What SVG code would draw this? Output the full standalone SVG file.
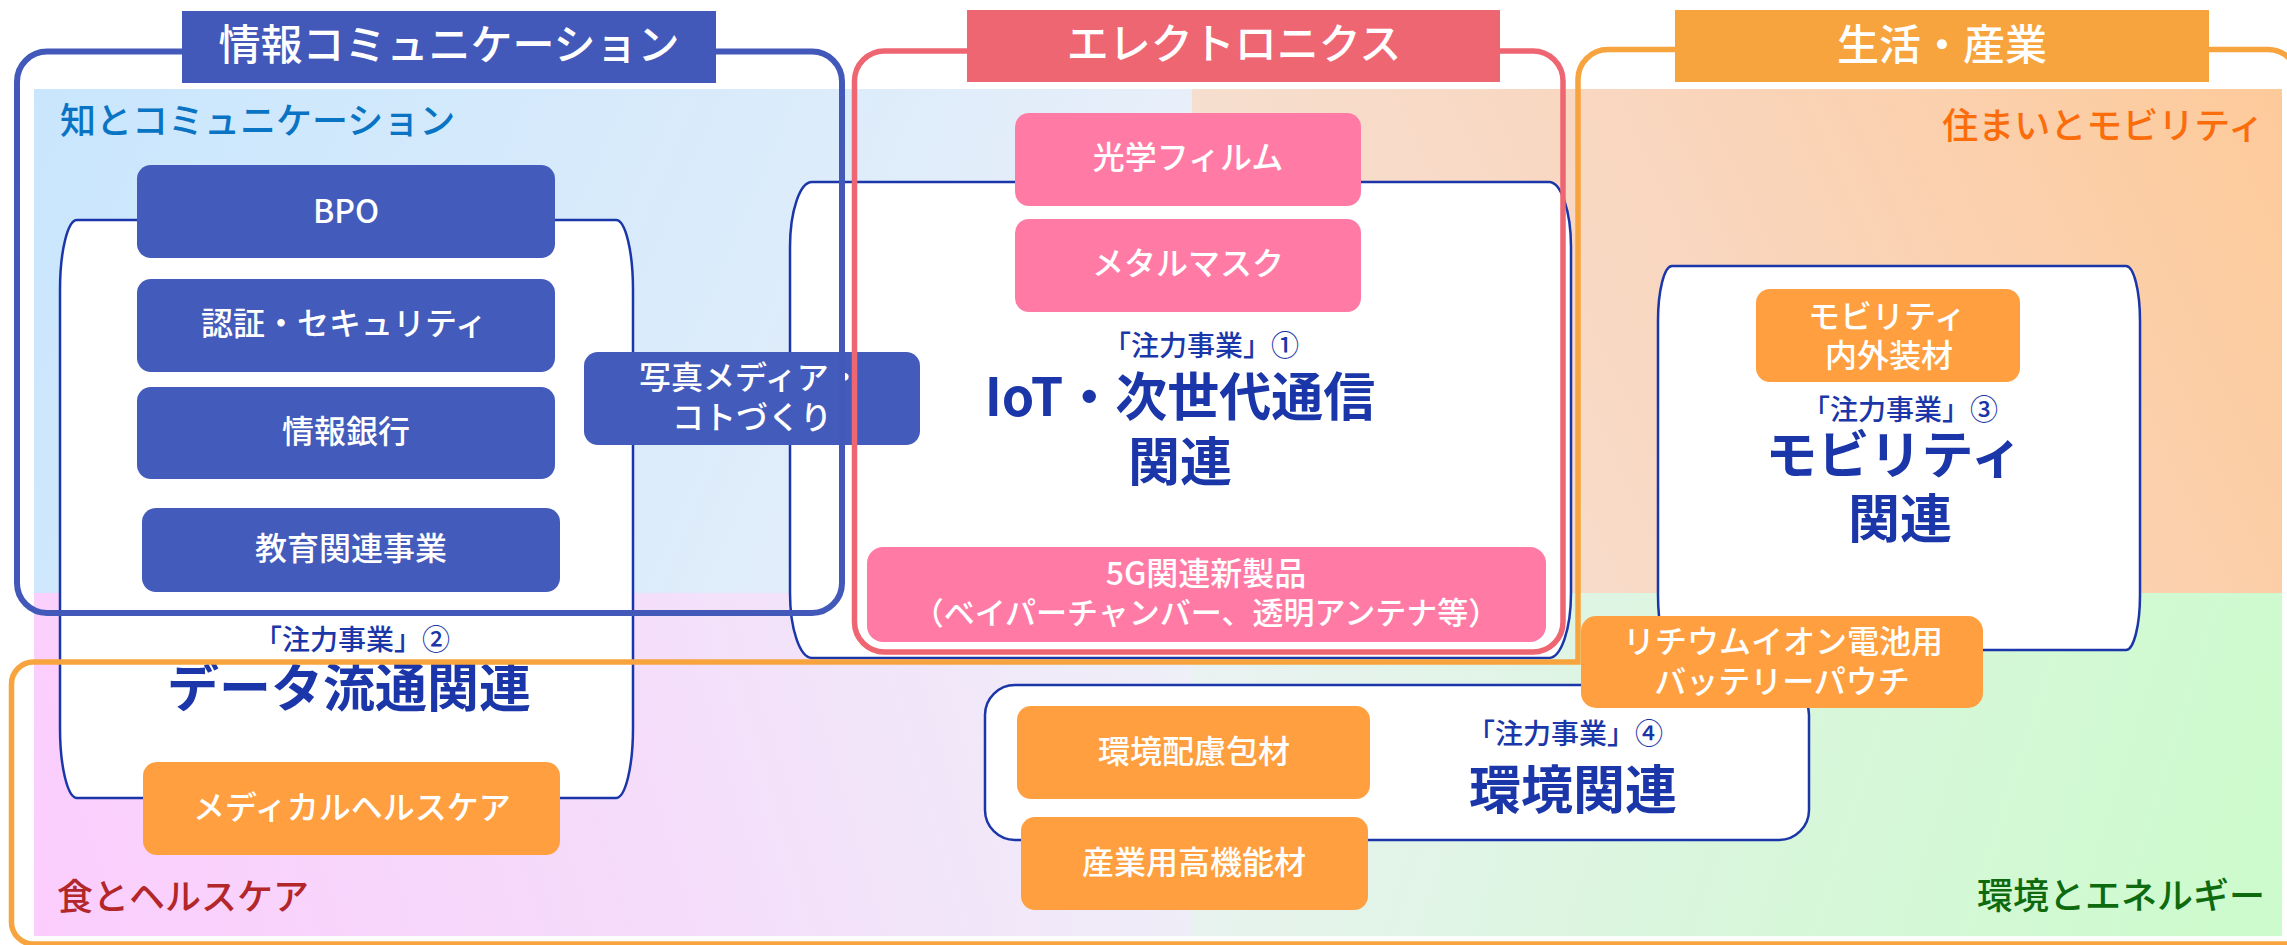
<svg xmlns="http://www.w3.org/2000/svg" width="2287" height="945" viewBox="0 0 2287 945">
<defs>
<linearGradient id="gTL" gradientUnits="userSpaceOnUse" x1="34" y1="89" x2="1192" y2="593"><stop offset="0" stop-color="#c9e6fd"/><stop offset="0.5" stop-color="#d9ebfb"/><stop offset="1" stop-color="#eef0f8"/></linearGradient>
<linearGradient id="gTR" gradientUnits="userSpaceOnUse" x1="2282" y1="89" x2="1192" y2="593"><stop offset="0" stop-color="#fdca9a"/><stop offset="0.5" stop-color="#f9d6bf"/><stop offset="0.82" stop-color="#f6dece"/><stop offset="1" stop-color="#f0eaee"/></linearGradient>
<linearGradient id="gBL" gradientUnits="userSpaceOnUse" x1="34" y1="936" x2="1192" y2="593"><stop offset="0" stop-color="#fbcdfd"/><stop offset="0.5" stop-color="#f5dcfa"/><stop offset="1" stop-color="#eef0f8"/></linearGradient>
<linearGradient id="gBR" gradientUnits="userSpaceOnUse" x1="2282" y1="936" x2="1192" y2="593"><stop offset="0" stop-color="#ccfbcc"/><stop offset="0.5" stop-color="#d9f6dc"/><stop offset="1" stop-color="#ebf2f3"/></linearGradient>
<style>
text{font-family:"Noto Sans CJK JP","Noto Sans",sans-serif;text-anchor:middle;font-weight:500}
.title{font-size:42px;fill:#fff}
.quad{font-size:36px}
.box{font-size:32px;fill:#fff}
.lead{font-size:28px;fill:#1a36a8}
.big{font-size:52px;font-weight:bold;fill:#1a36a8}
.node{fill:#fff;stroke:#1a36a8;stroke-width:2.5}
.bb{fill:#435bba}
.pb{fill:#ff7ba6}
.ob{fill:#ff9f40}
.frame{fill:none}
</style>
</defs>
<rect x="0" y="0" width="2287" height="945" fill="#fff"/>
<g id="background">
<rect x="34" y="89" width="1158" height="504" fill="url(#gTL)"/>
<rect x="1192" y="89" width="1090" height="504" fill="url(#gTR)"/>
<rect x="34" y="593" width="1158" height="343" fill="url(#gBL)"/>
<rect x="1192" y="593" width="1090" height="343" fill="url(#gBR)"/>
</g>
<g id="quadrant-labels">
<text class="quad" x="60" y="134" style="text-anchor:start;fill:#0a74c4">知とコミュニケーション</text>
<text class="quad" x="2264" y="139" style="text-anchor:end;fill:#fb6d0b">住まいとモビリティ</text>
<text class="quad" x="57" y="910" style="text-anchor:start;fill:#b3272a">食とヘルスケア</text>
<text class="quad" x="2265" y="909" style="text-anchor:end;fill:#0e6a0e">環境とエネルギー</text>
</g>
<g id="node-data">
<path class="node" d="M77,220 H616 A17,70 0 0 1 633,290 V728 A17,70 0 0 1 616,798 H77 A17,70 0 0 1 60,728 V290 A17,70 0 0 1 77,220 Z"/>
<text class="lead" x="352" y="650">「注力事業」②</text>
<text class="big" x="349" y="707">データ流通関連</text>
</g>
<g id="node-iot">
<path class="node" d="M812,182 H1549 A22,65 0 0 1 1571,247 V593 A22,65 0 0 1 1549,658 H812 A22,65 0 0 1 790,593 V247 A22,65 0 0 1 812,182 Z"/>
<text class="lead" x="1201" y="356">「注力事業」①</text>
<text class="big" x="1180" y="416">IoT・次世代通信</text>
<text class="big" x="1180" y="481">関連</text>
</g>
<g id="node-mobility">
<path class="node" d="M1672,266 H2126 A14,55 0 0 1 2140,321 V595 A14,55 0 0 1 2126,650 H1672 A14,55 0 0 1 1658,595 V321 A14,55 0 0 1 1672,266 Z"/>
<text class="lead" x="1900" y="420">「注力事業」③</text>
<text class="big" x="1894" y="474">モビリティ</text>
<text class="big" x="1900" y="538">関連</text>
</g>
<g id="node-env">
<rect class="node" x="985" y="685" width="824" height="155" rx="30"/>
<text class="lead" x="1565" y="744">「注力事業」④</text>
<text class="big" x="1573" y="809">環境関連</text>
</g>
<g id="box-bpo"><rect class="bb" x="137" y="165" width="418" height="93" rx="14"/><text class="box" x="346" y="223">BPO</text></g>
<g id="box-auth"><rect class="bb" x="137" y="279" width="418" height="93" rx="14"/><text class="box" x="344" y="335">認証・セキュリティ</text></g>
<g id="box-bank"><rect class="bb" x="137" y="387" width="418" height="92" rx="14"/><text class="box" x="346" y="443">情報銀行</text></g>
<g id="box-edu"><rect class="bb" x="142" y="508" width="418" height="84" rx="14"/><text class="box" x="351" y="560">教育関連事業</text></g>
<g id="box-photo"><rect class="bb" x="584" y="352" width="336" height="93" rx="14"/><text class="box" x="750" y="389">写真メディア・</text><text class="box" x="752" y="429">コトづくり</text></g>
<g id="box-film"><rect class="pb" x="1015" y="113" width="346" height="93" rx="14"/><text class="box" x="1188" y="169">光学フィルム</text></g>
<g id="box-mask"><rect class="pb" x="1015" y="219" width="346" height="93" rx="14"/><text class="box" x="1188" y="275">メタルマスク</text></g>
<g id="box-5g"><rect class="pb" x="867" y="547" width="679" height="95" rx="16"/><text class="box" x="1206" y="585">5G関連新製品</text><text class="box" x="1206" y="624" style="font-size:31px">（ベイパーチャンバー、透明アンテナ等）</text></g>
<g id="box-mobparts"><rect class="ob" x="1756" y="289" width="264" height="93" rx="14"/><text class="box" x="1887" y="328">モビリティ</text><text class="box" x="1889" y="367">内外装材</text></g>
<g id="box-medical"><rect class="ob" x="143" y="762" width="417" height="93" rx="14"/><text class="box" x="352" y="819">メディカルヘルスケア</text></g>
<g id="box-pack"><rect class="ob" x="1017" y="706" width="353" height="93" rx="14"/><text class="box" x="1194" y="763">環境配慮包材</text></g>
<g id="box-industrial"><rect class="ob" x="1021" y="817" width="347" height="93" rx="14"/><text class="box" x="1194" y="874">産業用高機能材</text></g>
<g id="box-battery"><rect class="ob" x="1581" y="616" width="402" height="92" rx="15"/><text class="box" x="1783" y="653">リチウムイオン電池用</text><text class="box" x="1782" y="693">バッテリーパウチ</text></g>
<g id="connectors">
<rect class="frame" x="17" y="51.5" width="825" height="561.5" rx="30" stroke="#4259ba" stroke-width="6"/>
<rect class="frame" x="854.5" y="51" width="708.5" height="601" rx="30" stroke="#ef6673" stroke-width="5.5"/>
<path class="frame" d="M1578,662 V80 A30,30 0 0 1 1608,49.5 H2268 A30,30 0 0 1 2298,80 V944 H34 A22,22 0 0 1 11.5,921 V684 A22,22 0 0 1 33.5,662 Z" stroke="#f7a43e" stroke-width="5.5"/>
</g>
<g id="title-info"><rect x="182" y="11" width="534" height="72" fill="#4259ba"/><text class="title" x="449" y="60">情報コミュニケーション</text></g>
<g id="title-elec"><rect x="967" y="10" width="533" height="72" fill="#ef6673"/><text class="title" x="1234" y="59">エレクトロニクス</text></g>
<g id="title-life"><rect x="1675" y="10" width="534" height="72" fill="#f7a43e"/><text class="title" x="1942" y="60">生活・産業</text></g>
</svg>
